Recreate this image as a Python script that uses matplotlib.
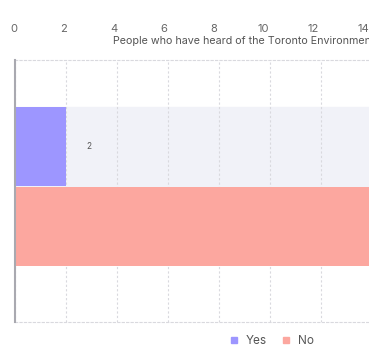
import matplotlib
matplotlib.use("Agg")
import matplotlib.pyplot as plt
from matplotlib.lines import Line2D
from matplotlib.transforms import ScaledTranslation

plt.rcParams['font.family'] = ['Inter', 'DejaVu Sans']

categories = ["Yes", "No"]
values = [2, 16]
colors = ["#9d96ff", "#fca79f"]
title = "People who have heard of the Toronto Environmental Alliance"
xticks = [0, 2, 4, 6, 8, 10, 12, 14]

W, H = 369, 360
fig = plt.figure(figsize=(W / 100, H / 100), dpi=100)
left, right, top, bottom = 15, 372, 60, 322
ax = fig.add_axes([left / W, 1 - bottom / H, (right - left) / W, (bottom - top) / H])

pos = list(range(len(categories)))
bar_h = 0.99
ax.axhspan(pos[0] - bar_h / 2, pos[0] + bar_h / 2, color="#f1f2f8", zorder=0)
ax.barh(pos, values, height=bar_h, color=colors, zorder=2)
ax.text(values[0] + 0.8, pos[0], str(values[0]), va="center", ha="left",
        fontsize=6, color="#555555", zorder=3)

ax.set_xlim(0, 14)
ax.set_ylim(2.19, -1.08)
ax.set_yticks([])
ax.xaxis.tick_top()
ax.set_xticks(xticks)
ax.set_xticklabels([str(t) for t in xticks], fontsize=8, color="#666666")
ax.tick_params(axis="x", length=0, pad=19)
ax.grid(axis="x", color="#d9d9de", linestyle=(0, (2, 2)), linewidth=0.8, zorder=1)

# tick labels sit on a slightly narrower scale than the grid in the reference
px_per_unit = (right - left) / 14.0
lab_px = 24.93
for t, tick in zip(xticks, ax.xaxis.get_major_ticks()):
    dx = (14 + lab_px * t) - (left + px_per_unit * t)
    lab = tick.label2
    lab.set_transform(lab.get_transform() + ScaledTranslation(dx / 100, 0, fig.dpi_scale_trans))

for s in ["top", "bottom"]:
    ax.spines[s].set_linestyle((0, (2, 2)))
    ax.spines[s].set_color("#d9d9de")
    ax.spines[s].set_linewidth(0.8)
ax.spines["right"].set_visible(False)
ax.spines["left"].set_color("#a9a9b0")
ax.spines["left"].set_linewidth(1.5)
ax.spines["left"].set_zorder(4)

fig.text(113 / W, 1 - 41 / H, title, fontsize=7.7, color="#555555", ha="left", va="center")

handles = [Line2D([0], [0], marker="s", linestyle="none", markersize=4,
                  markerfacecolor=c, markeredgecolor=c) for c in colors]
fig.legend(handles, categories, loc="center", bbox_to_anchor=(271 / W, 1 - 341 / H),
           ncol=2, frameon=False, fontsize=8.5, handletextpad=0.5, columnspacing=1.1,
           labelcolor="#555555", handlelength=1)

fig.savefig("out.png", dpi=100)
